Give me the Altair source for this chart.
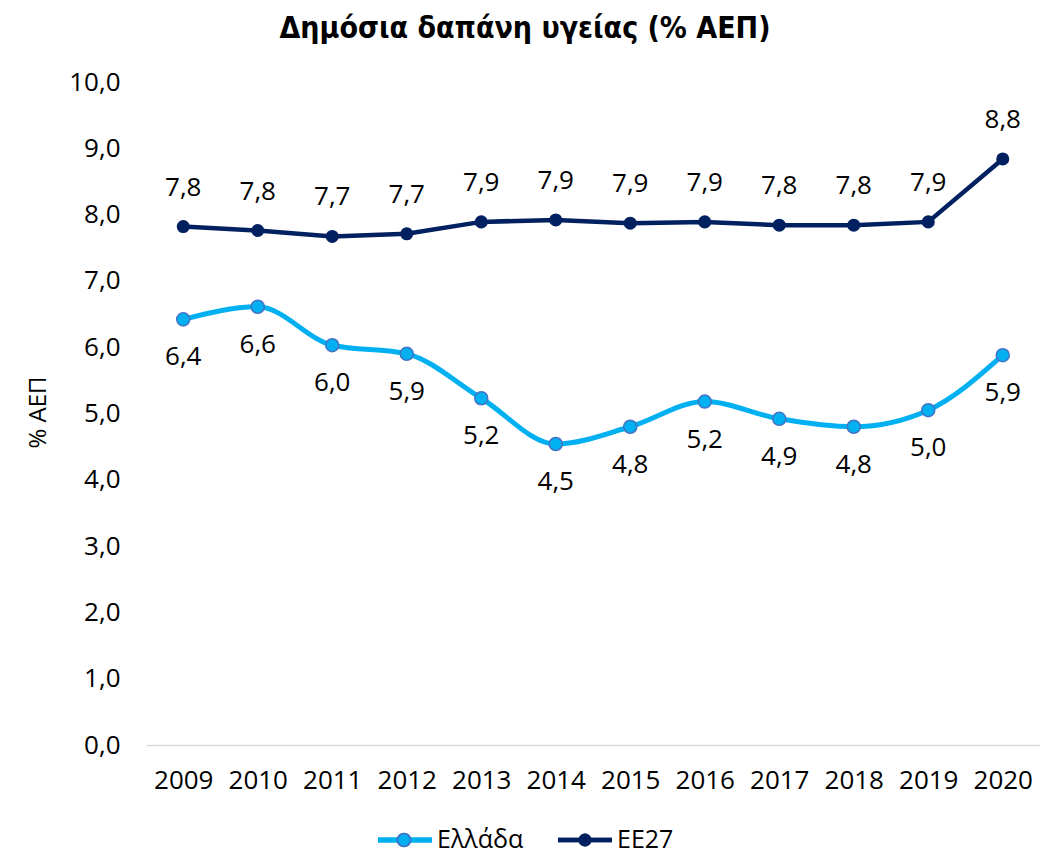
import altair as alt
import pandas as pd

years = ["2009","2010","2011","2012","2013","2014","2015","2016","2017","2018","2019","2020"]
greece = [6.42, 6.61, 6.03, 5.90, 5.23, 4.54, 4.80, 5.18, 4.92, 4.80, 5.05, 5.88]
eu27 = [7.82, 7.76, 7.67, 7.71, 7.89, 7.92, 7.87, 7.89, 7.84, 7.84, 7.89, 8.84]
series_names = ["Ελλάδα", "ΕΕ27"]

def fmt(v):
    return f"{v:.1f}".replace(".", ",")

gr = pd.DataFrame({"year": years, "value": greece, "label": [fmt(v) for v in greece]})
eu = pd.DataFrame({"year": years, "value": eu27, "label": [fmt(v) for v in eu27]})

FONT = "Open Sans"
LIGHT = "#00B0F0"
DARK = "#002060"
EDGE = "#4472C4"

x = alt.X("year:O", title=None, scale=alt.Scale(type="point", padding=0.5),
          axis=alt.Axis(labelAngle=0, labelFont=FONT, labelFontSize=26, labelColor="#000000",
                        labelPadding=22, ticks=False, domainColor="#D9D9D9", domainWidth=1.5,
                        grid=False))
y = alt.Y("value:Q", title="% ΑΕΠ", scale=alt.Scale(domain=[0, 10], nice=False),
          axis=alt.Axis(values=list(range(0, 11)),
                        labelExpr="replace(format(datum.value,'.1f'),'.',',')",
                        labelFont=FONT, labelFontSize=26, labelColor="#000000", labelPadding=26,
                        ticks=False, domain=False, grid=False,
                        titleFont=FONT, titleFontSize=24, titleFontWeight="normal",
                        titleColor="#000000", titleX=-96, titleY=330, titleAngle=-90))

base_gr = alt.Chart(gr)
base_eu = alt.Chart(eu)

gr_line = base_gr.mark_line(color=LIGHT, strokeWidth=5, interpolate="monotone").encode(x=x, y=y)
gr_pts = base_gr.mark_point(filled=True, fill=LIGHT, stroke=EDGE, strokeWidth=1.5, size=170, opacity=1).encode(x=x, y=y)
gr_txt = base_gr.mark_text(font=FONT, fontSize=26, color="#000000", dy=38).encode(x=x, y=y, text="label:N")

eu_line = base_eu.mark_line(color=DARK, strokeWidth=4.5).encode(x=x, y=y)
eu_pts = base_eu.mark_point(filled=True, color=DARK, size=170, opacity=1).encode(x=x, y=y)
eu_txt = base_eu.mark_text(font=FONT, fontSize=26, color="#000000", dy=-39).encode(x=x, y=y, text="label:N")

# manual legend
leg = pd.DataFrame({"name": series_names})
legend_y = 758
lg1_line = alt.Chart(leg).mark_rule(color=LIGHT, strokeWidth=5).encode(
    x=alt.value(232), x2=alt.value(286), y=alt.value(legend_y))
lg1_pt = alt.Chart(leg).mark_point(filled=True, fill=LIGHT, stroke=EDGE, strokeWidth=1.5, size=170, opacity=1).encode(
    x=alt.value(258), y=alt.value(legend_y))
lg1_txt = alt.Chart(pd.DataFrame({"name": [series_names[0]]})).mark_text(
    font=FONT, fontSize=25, color="#000000", align="left", baseline="middle").encode(
    x=alt.value(291), y=alt.value(legend_y), text="name:N")
lg2_line = alt.Chart(leg).mark_rule(color=DARK, strokeWidth=4.5).encode(
    x=alt.value(412), x2=alt.value(466), y=alt.value(legend_y))
lg2_pt = alt.Chart(leg).mark_point(filled=True, color=DARK, size=170, opacity=1).encode(
    x=alt.value(439), y=alt.value(legend_y))
lg2_txt = alt.Chart(pd.DataFrame({"name": [series_names[1]]})).mark_text(
    font=FONT, fontSize=25, color="#000000", align="left", baseline="middle").encode(
    x=alt.value(471), y=alt.value(legend_y), text="name:N")

chart = alt.layer(
    gr_line, eu_line, gr_pts, eu_pts, gr_txt, eu_txt,
    lg1_line, lg1_pt, lg1_txt, lg2_line, lg2_pt, lg2_txt
).properties(
    width=894, height=663,
    background="white",
    title=alt.TitleParams("Δημόσια δαπάνη υγείας (% ΑΕΠ)", font="DejaVu Sans Condensed",
                          fontSize=30, fontWeight="bold", color="#000000",
                          anchor="middle", dx=-68, offset=25),
    autosize=alt.AutoSizeParams(type="none"),
    padding={"left": 138, "top": 74, "right": 0, "bottom": 110},
).configure_view(strokeWidth=0, stroke="transparent")

chart.save("out.html", embed_options={"renderer": "svg", "actions": False})
